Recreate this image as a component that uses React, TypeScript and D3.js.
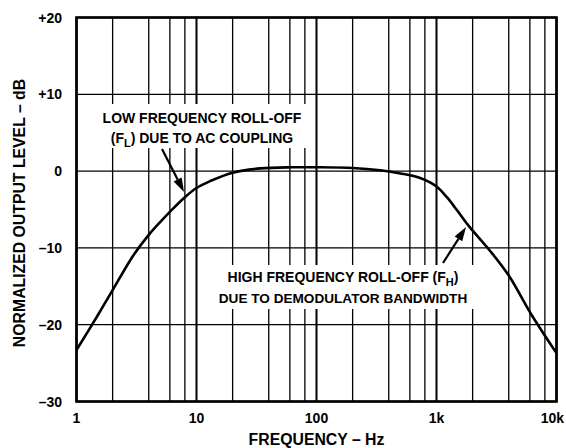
import React from "react";
import * as d3 from "d3";

const freqs = [1, 1.5, 2, 3, 4, 5, 6, 8, 10, 13, 20, 34, 63, 100, 200, 340, 500, 730, 1000, 1220, 1500, 1870, 2800, 4000, 6300, 10000];
const levels = [-23.3, -18.8, -15.5, -10.9, -8.3, -6.6, -5.3, -3.4, -2.2, -1.3, -0.2, 0.35, 0.5, 0.5, 0.4, 0.1, -0.3, -0.9, -2.0, -3.4, -5.2, -7.2, -10.4, -13.6, -18.9, -23.7];

const yTicks = [20, 10, 0, -10, -20, -30];
const yTickLabels = ["+20", "+10", "0", "\u201310", "\u201320", "\u201330"];
const xTicks = [1, 10, 100, 1000, 10000];
const xTickLabels = ["1", "10", "100", "1k", "10k"];
const minorMults = [2, 4, 6, 8];

const W = 566, H = 448;
const M = { left: 76.5, right: 556.5, top: 17.5, bottom: 401.5 };
const FONT = "'Liberation Sans', Arial, Helvetica, sans-serif";

export default function App() {
  const x = d3.scaleLog().domain([1, 10000]).range([M.left, M.right]);
  const y = d3.scaleLinear().domain([-30, 20]).range([M.bottom, M.top]);

  const minorLines: number[] = [];
  for (let dec = 1; dec < 10000; dec *= 10) {
    for (const m of minorMults) minorLines.push(dec * m);
  }

  const line = d3
    .line<number>()
    .x((_, i) => x(freqs[i]))
    .y((d) => y(d))
    .curve(d3.curveCatmullRom.alpha(0.5));

  const arrow = (x1: number, y1: number, x2: number, y2: number) => {
    const ang = Math.atan2(y2 - y1, x2 - x1);
    const len = 14, half = 4.5;
    const bx = x2 - len * Math.cos(ang), by = y2 - len * Math.sin(ang);
    const px = -Math.sin(ang) * half, py = Math.cos(ang) * half;
    return (
      <g>
        <line x1={x1} y1={y1} x2={bx} y2={by} stroke="#000" strokeWidth={2.2} />
        <polygon points={`${x2},${y2} ${bx + px},${by + py} ${bx - px},${by - py}`} fill="#000" />
      </g>
    );
  };

  return (
    <svg width={W} height={H} style={{ position: "absolute", left: 0, top: 0, background: "#fff" }} fontFamily={FONT} fontWeight="bold">
      <rect x={0} y={0} width={W} height={H} fill="#fff" />
      {minorLines.map((f) => (
        <line key={"m" + f} x1={x(f)} x2={x(f)} y1={M.top} y2={M.bottom} stroke="#000" strokeWidth={1.3} />
      ))}
      {xTicks.map((f) => (
        <line key={"d" + f} x1={x(f)} x2={x(f)} y1={M.top} y2={M.bottom} stroke="#000" strokeWidth={2} />
      ))}
      {yTicks.map((v) => (
        <line key={"h" + v} x1={M.left} x2={M.right} y1={y(v)} y2={y(v)} stroke="#000" strokeWidth={1.3} />
      ))}
      <rect x={98} y={104} width={210} height={44} fill="#fff" />
      <rect x={214} y={265} width={262} height={44} fill="#fff" />
      <path d={line(levels) || ""} fill="none" stroke="#000" strokeWidth={2.6} />
      <rect x={M.left} y={M.top} width={M.right - M.left} height={M.bottom - M.top} fill="none" stroke="#000" strokeWidth={2.6} />
      {yTicks.map((v, i) => (
        <text key={"yl" + v} x={62} y={y(v)} dy="0.36em" textAnchor="end" fontSize={14}>
          {yTickLabels[i]}
        </text>
      ))}
      {xTicks.map((f, i) => (
        <text key={"xl" + f} x={i === xTicks.length - 1 ? W - 2 : x(f)} y={423} textAnchor={i === xTicks.length - 1 ? "end" : "middle"} fontSize={14}>
          {xTickLabels[i]}
        </text>
      ))}
      <text x={(M.left + M.right) / 2} y={445} textAnchor="middle" fontSize={15.8}>
        FREQUENCY – Hz
      </text>
      <text transform={`translate(25,213) rotate(-90)`} textAnchor="middle" fontSize={15.8}>
        NORMALIZED OUTPUT LEVEL – dB
      </text>
      <text x={202} y={123} textAnchor="middle" fontSize={14}>LOW FREQUENCY ROLL-OFF</text>
      <text x={202} y={143} textAnchor="middle" fontSize={14}>
        (F<tspan fontSize={11} dy={4}>L</tspan><tspan dy={-4}>) DUE TO AC COUPLING</tspan>
      </text>
      <text x={343} y={282} textAnchor="middle" fontSize={14}>
        HIGH FREQUENCY ROLL-OFF (F<tspan fontSize={11} dy={4}>H</tspan><tspan dy={-4}>)</tspan>
      </text>
      <text x={343} y={303} textAnchor="middle" fontSize={13.6}>DUE TO DEMODULATOR BANDWIDTH</text>
      {arrow(162, 149, 184, 192)}
      {arrow(443, 263, 466, 227)}
    </svg>
  );
}
